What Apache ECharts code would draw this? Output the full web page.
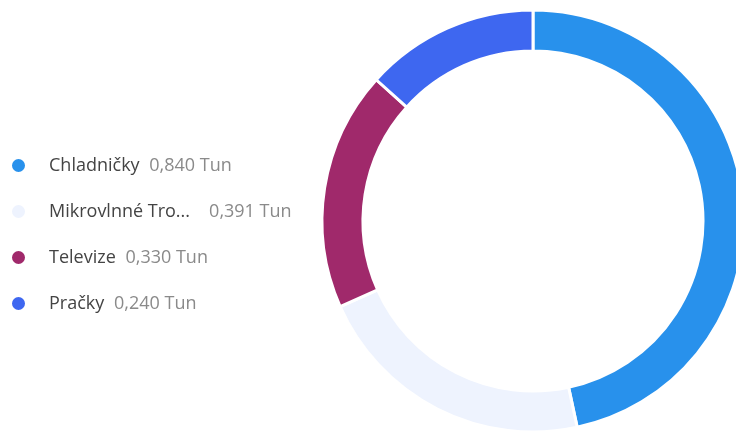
<!DOCTYPE html>
<html><head><meta charset="utf-8">
<script src="https://cdn.jsdelivr.net/npm/echarts@6/dist/echarts.min.js"></script>
<style>html,body{margin:0;padding:0;background:#fff}#c{width:736px;height:435px}</style>
</head><body><div id="c"></div>
<script>
const categories = ['Chladničky', 'Mikrovlnné Trouby', 'Televize', 'Pračky'];
const values = [0.840, 0.391, 0.330, 0.240];
const unit = 'Tun';
const colors = ['#2891EC', '#EEF3FE', '#A0296B', '#3E67F0'];

const fmt = v => v.toFixed(3).replace('.', ',') + ' ' + unit;
const chart = echarts.init(document.getElementById('c'));
chart.setOption({
  animation: false,
  color: colors,
  legend: {
    orient: 'vertical',
    left: 5,
    top: 150,
    icon: 'circle',
    itemWidth: 15,
    itemHeight: 15,
    itemGap: 25,
    formatter: name => {
      const i = categories.indexOf(name);
      let n = name.length > 14 ? name.slice(0, 14) + '...  ' : name;
      return '{n|' + n + '} {v|' + fmt(values[i]) + '}';
    },
    textStyle: {
      fontSize: 18,
      fontFamily: 'Open Sans',
      padding: [0, 0, 0, 18],
      lineHeight: 21,
      rich: {
        n: { fontSize: 18, color: '#444', fontFamily: 'Open Sans', lineHeight: 21 },
        v: { fontSize: 18, color: '#8a8a8a', fontFamily: 'Open Sans', lineHeight: 21, padding: [0, 0, 0, 5] }
      }
    }
  },
  series: [{
    type: 'pie',
    center: [533, 221],
    radius: [170, 211],
    startAngle: 90,
    clockwise: true,
    label: { show: false },
    labelLine: { show: false },
    itemStyle: { borderColor: '#fff', borderWidth: 3 },
    data: categories.map((c, i) => ({ name: c, value: values[i] }))
  }]
});
</script></body></html>
